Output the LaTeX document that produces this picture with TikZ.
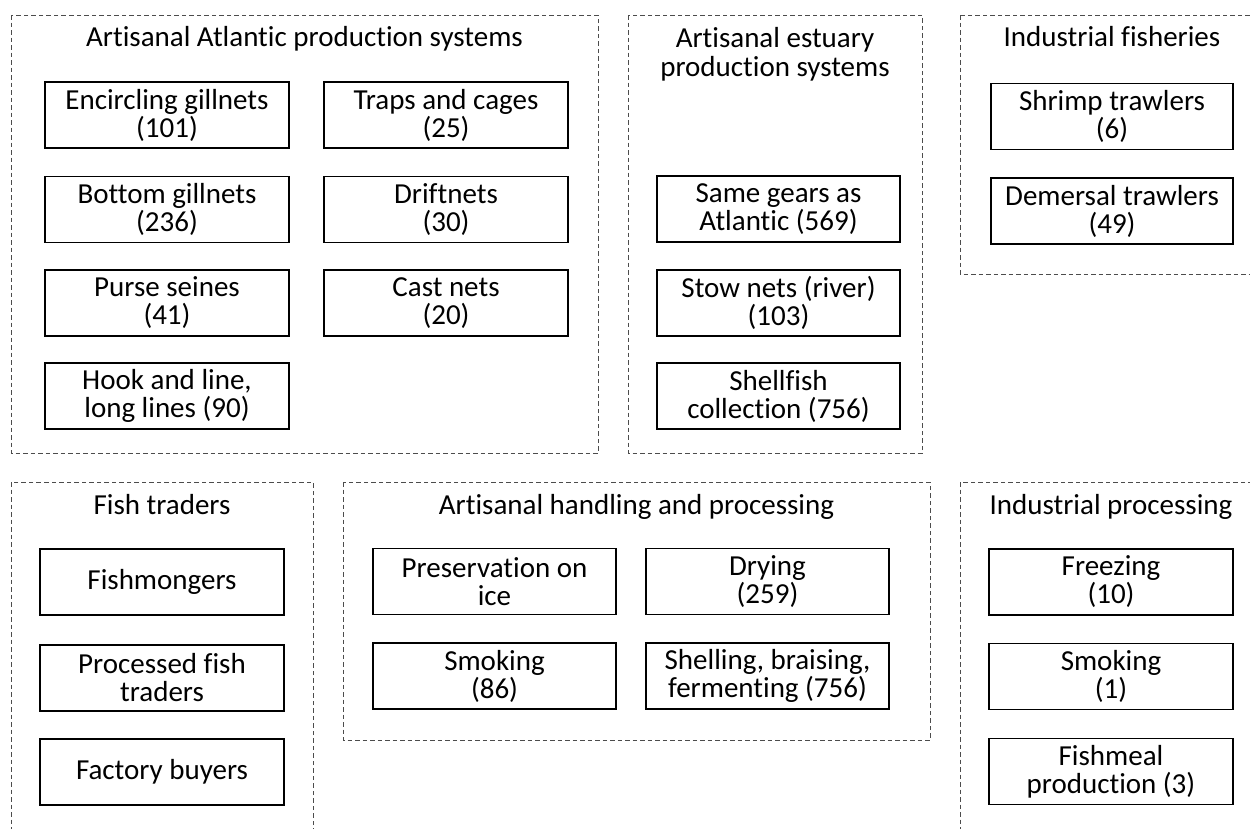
\documentclass[tikz,border=0pt]{standalone}
\usepackage{fontspec}
\setmainfont{Carlito}[Ligatures=NoCommon]
\begin{document}
\begin{tikzpicture}[x=1pt,y=-1pt,
  txt/.style={font=\fontsize{29}{28}\selectfont, align=center, inner sep=0pt},
  gear/.style={txt, draw=black, line width=1.1pt, minimum width=244pt, minimum height=66pt},
  group/.style={draw=black!70, line width=0.9pt, dash pattern=on 4.5pt off 3pt},
  title/.style={txt, anchor=base}]
\useasboundingbox (0,0) rectangle (1250,828);
\clip (0,0) rectangle (1250,828);

% dashed frames of the six groups
\draw[group] (11,15) rectangle (598,453);
\draw[group] (628,15) rectangle (922,453);
\draw[group] (960,15) rectangle (1262,274);
\draw[group] (11,482) rectangle (313,840);
\draw[group] (343,482) rectangle (930,740);
\draw[group] (960,482) rectangle (1262,840);

% group titles
\node[title] (tatl) at (304.5,46) {Artisanal Atlantic production systems};
\node[title] (test1) at (775,47) {Artisanal estuary};
\node[title] (test2) at (775,76) {production systems};
\node[title] (tind) at (1112,46) {Industrial fisheries};
\node[title] (ttra) at (162,514) {Fish traders};
\node[title] (thand) at (636.5,514) {Artisanal handling and processing};
\node[title] (tproc) at (1111,514) {Industrial processing};

% artisanal Atlantic gears
\node[gear] (enc) at (167,115) {Encircling gillnets\\(101)};
\node[gear] (trap) at (446,115) {Traps and cages\\(25)};
\node[gear] (bot) at (167,209.5) {Bottom gillnets\\(236)};
\node[gear] (drift) at (446,209.5) {Driftnets\\(30)};
\node[gear] (purse) at (167,303) {Purse seines\\(41)};
\node[gear] (cast) at (446,303) {Cast nets\\(20)};
\node[gear] (hook) at (167,396) {Hook and line,\\long lines (90)};

% estuary gears
\node[gear, minimum width=243pt] (same) at (778.5,209) {Same gears as\\Atlantic (569)};
\node[gear, minimum width=243pt] (stow) at (778.5,303) {Stow nets (river)\\(103)};
\node[gear, minimum width=243pt] (shell) at (778.5,396) {Shellfish\\collection (756)};

% industrial fleets
\node[gear, minimum width=242pt] (shrimp) at (1112,116.5) {Shrimp trawlers\\(6)};
\node[gear, minimum width=242pt] (dem) at (1112,211) {Demersal trawlers\\(49)};

% traders
\node[gear] (monger) at (162,582) {Fishmongers};
\node[gear] (proc) at (162,678) {Processed fish\\traders};
\node[gear] (fact) at (162,772) {Factory buyers};

% artisanal handling and processing
\node[gear, minimum width=243pt] (ice) at (494.5,581.5) {Preservation on\\ice};
\node[gear, minimum width=243pt] (dry) at (767.5,581.5) {Drying\\(259)};
\node[gear, minimum width=243pt] (smoke) at (494.5,676) {Smoking\\(86)};
\node[gear, minimum width=243pt] (sbf) at (767.5,676) {Shelling, braising,\\fermenting (756)};

% industrial processing
\node[gear] (freeze) at (1111,582) {Freezing\\(10)};
\node[gear] (ismoke) at (1111,676.5) {Smoking\\(1)};
\node[gear] (meal) at (1111,771.5) {Fishmeal\\production (3)};
\end{tikzpicture}
\end{document}
